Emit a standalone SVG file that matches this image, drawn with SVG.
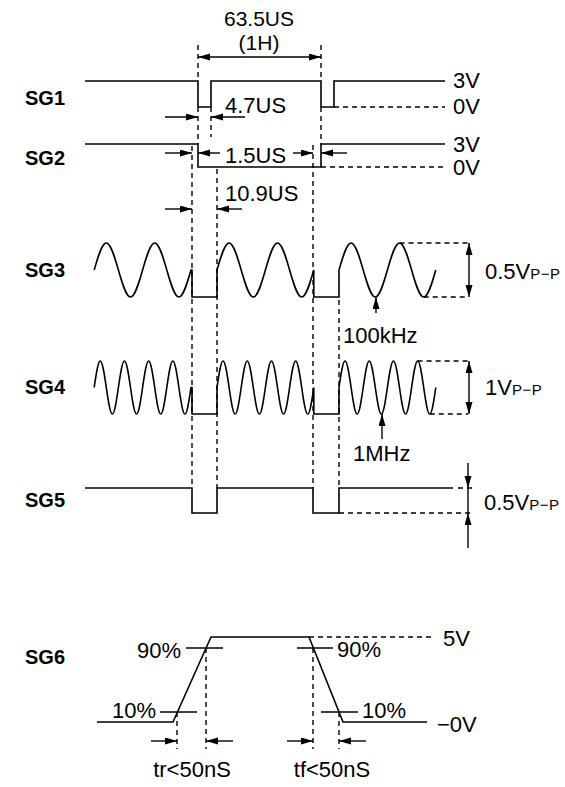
<svg xmlns="http://www.w3.org/2000/svg" width="565" height="787" viewBox="0 0 565 787">
<style>
  .w{fill:none;stroke:#000;stroke-width:1.6;stroke-linejoin:miter}
  .d{fill:none;stroke:#000;stroke-width:1.4;stroke-dasharray:5,4}
  .l{fill:none;stroke:#000;stroke-width:1.4}
  .a{fill:none;stroke:#000;stroke-width:1.4;marker-end:url(#ah)}
  .b{fill:none;stroke:#000;stroke-width:1.4;marker-start:url(#ah);marker-end:url(#ah)}
  text{font-family:"Liberation Sans",Arial,Helvetica,sans-serif;font-size:22px;fill:#000}
  .sg{font-weight:bold;font-size:20px}
  .t{font-size:21px}
  .s{font-size:15px;letter-spacing:0.5px}
</style>
<defs>
  <marker id="ah" markerUnits="userSpaceOnUse" markerWidth="13" markerHeight="8" refX="12" refY="3.5" orient="auto-start-reverse">
    <path d="M0,0 L12,3.5 L0,7 z" fill="#000"/>
  </marker>
</defs>
<rect width="565" height="787" fill="#fff"/>

<g id="sg1">
  <text class="sg" x="25" y="105">SG1</text>
  <path class="w" d="M85,81 H198 V107 H211 V81 H321 V107 H334 V81 H445"/>
  <path class="d" d="M334,107 H445"/>
  <text x="453" y="88">3V</text>
  <text x="453" y="114">0V</text>
</g>

<g id="sg2">
  <text class="sg" x="25" y="165">SG2</text>
  <path class="w" d="M85,144 H198 V167 H321 V144 H445"/>
  <path class="d" d="M321,167 H445"/>
  <text x="453" y="152">3V</text>
  <text x="453" y="175">0V</text>
</g>

<g id="sg3">
  <text class="sg" x="25" y="277">SG3</text>
  <path class="w" d="M94.2,270 c3.95,-13.83 7.72,-27 12.1,-27 s8.15,13.17 12.1,27 s7.72,27 12.1,27 s8.15,-13.17 12.1,-27 s7.72,-27 12.1,-27 s8.15,13.17 12.1,27 s7.72,27 12.1,27 s8.15,-13.17 12.1,-27 L192,270 V297 H217 V270 c3.95,-13.83 7.72,-27 12.1,-27 s8.15,13.17 12.1,27 s7.72,27 12.1,27 s8.15,-13.17 12.1,-27 s7.72,-27 12.1,-27 s8.15,13.17 12.1,27 s7.72,27 12.1,27 s8.15,-13.17 12.1,-27 V297 H339 V270 c3.95,-13.83 7.72,-27 12.1,-27 s8.15,13.17 12.1,27 s7.72,27 12.1,27 s8.15,-13.17 12.1,-27 s7.72,-27 12.1,-27 s8.15,13.17 12.1,27 s7.72,27 12.1,27 s8.15,-13.17 12.1,-27"/>
  <path class="d" d="M399.5,243 H468 M423.7,297 H468"/>
  <text x="485" y="279">0.5V<tspan class="s">P−P</tspan></text>
  <text x="343" y="343">100kHz</text>
</g>

<g id="sg4">
  <text class="sg" x="25" y="394">SG4</text>
  <path class="w" d="M94.2,387.5 c1.97,-13.58 3.86,-26.5 6.05,-26.5 s4.08,12.92 6.05,26.5 s3.86,26.5 6.05,26.5 s4.08,-12.92 6.05,-26.5 s3.86,-26.5 6.05,-26.5 s4.08,12.92 6.05,26.5 s3.86,26.5 6.05,26.5 s4.08,-12.92 6.05,-26.5 s3.86,-26.5 6.05,-26.5 s4.08,12.92 6.05,26.5 s3.86,26.5 6.05,26.5 s4.08,-12.92 6.05,-26.5 s3.86,-26.5 6.05,-26.5 s4.08,12.92 6.05,26.5 s3.86,26.5 6.05,26.5 s4.08,-12.92 6.05,-26.5 L192,387.5 V414 H217 V387.5 c1.97,-13.58 3.86,-26.5 6.05,-26.5 s4.08,12.92 6.05,26.5 s3.86,26.5 6.05,26.5 s4.08,-12.92 6.05,-26.5 s3.86,-26.5 6.05,-26.5 s4.08,12.92 6.05,26.5 s3.86,26.5 6.05,26.5 s4.08,-12.92 6.05,-26.5 s3.86,-26.5 6.05,-26.5 s4.08,12.92 6.05,26.5 s3.86,26.5 6.05,26.5 s4.08,-12.92 6.05,-26.5 s3.86,-26.5 6.05,-26.5 s4.08,12.92 6.05,26.5 s3.86,26.5 6.05,26.5 s4.08,-12.92 6.05,-26.5 V414 H339 V387.5 c1.97,-13.58 3.86,-26.5 6.05,-26.5 s4.08,12.92 6.05,26.5 s3.86,26.5 6.05,26.5 s4.08,-12.92 6.05,-26.5 s3.86,-26.5 6.05,-26.5 s4.08,12.92 6.05,26.5 s3.86,26.5 6.05,26.5 s4.08,-12.92 6.05,-26.5 s3.86,-26.5 6.05,-26.5 s4.08,12.92 6.05,26.5 s3.86,26.5 6.05,26.5 s4.08,-12.92 6.05,-26.5 s3.86,-26.5 6.05,-26.5 s4.08,12.92 6.05,26.5 s3.86,26.5 6.05,26.5 s4.08,-12.92 6.05,-26.5"/>
  <path class="d" d="M417.6,361 H468 M429.8,414 H468"/>
  <text x="485" y="395">1V<tspan class="s">P−P</tspan></text>
  <text x="353" y="461">1MHz</text>
</g>

<g id="sg5">
  <text class="sg" x="25" y="507">SG5</text>
  <path class="w" d="M85,488 H192 V513 H217 V488 H313 V513 H339 V488 H453"/>
  <path class="d" d="M458,488 H476 M339,513 H472"/>
  <text x="484" y="510">0.5V<tspan class="s">P−P</tspan></text>
</g>

<g id="sg6">
  <text class="sg" x="25" y="664">SG6</text>
  <path class="w" d="M97,722 H173 L211,637 H309 L343,722 H427"/>
  <path class="d" d="M309,637 H432"/>
  <path class="l" d="M186,648 H223 M160,712 H197 M297,648 H333 M321,712 H358"/>
  <text x="181" y="658" text-anchor="end">90%</text>
  <text x="156" y="718" text-anchor="end">10%</text>
  <text x="337" y="657">90%</text>
  <text x="362" y="718">10%</text>
  <text x="443" y="646">5V</text>
  <text x="437" y="732">−0V</text>
  <text x="192" y="777" text-anchor="middle">tr&lt;50nS</text>
  <text x="332" y="777" text-anchor="middle">tf&lt;50nS</text>
</g>

<g id="connectors">
  <path class="d" d="M198,45 V81 M198,107 V144 M321,45 V81 M321,107 V144 M211,107 V137 M192,146 V488 M217,169 V488 M313,145 V488 M339,300 V488"/>
  <path class="d" d="M177,712 V749 M206,648 V749 M313,648 V749 M339,712 V749"/>
  <line class="b" x1="198" y1="57" x2="321" y2="57"/>
  <text class="t" x="259" y="26" text-anchor="middle">63.5US</text>
  <text class="t" x="259" y="50" text-anchor="middle">(1H)</text>
  <line class="a" x1="165" y1="117" x2="198" y2="117"/>
  <line class="a" x1="245" y1="117" x2="211" y2="117"/>
  <text x="225" y="113">4.7US</text>
  <line class="a" x1="165" y1="153" x2="192" y2="153"/>
  <line class="a" x1="220" y1="153" x2="198" y2="153"/>
  <line class="a" x1="293" y1="153" x2="313" y2="153"/>
  <line class="a" x1="347" y1="153" x2="321" y2="153"/>
  <text x="225" y="163">1.5US</text>
  <line class="a" x1="165" y1="209" x2="192" y2="209"/>
  <line class="a" x1="242" y1="209" x2="217" y2="209"/>
  <text x="225" y="201">10.9US</text>
  <line class="b" x1="469" y1="243" x2="469" y2="297"/>
  <line class="b" x1="469" y1="361" x2="469" y2="414"/>
  <line class="a" x1="468" y1="463" x2="468" y2="488"/>
  <line class="a" x1="468" y1="548" x2="468" y2="513"/>
  <line class="l" x1="468" y1="488" x2="468" y2="513"/>
  <line class="a" x1="376" y1="313" x2="376" y2="297"/>
  <line class="a" x1="382" y1="439" x2="382" y2="414"/>
  <line class="a" x1="151" y1="741" x2="177" y2="741"/>
  <line class="a" x1="233" y1="741" x2="206" y2="741"/>
  <line class="a" x1="287" y1="741" x2="313" y2="741"/>
  <line class="a" x1="366" y1="741" x2="339" y2="741"/>
</g>
</svg>
